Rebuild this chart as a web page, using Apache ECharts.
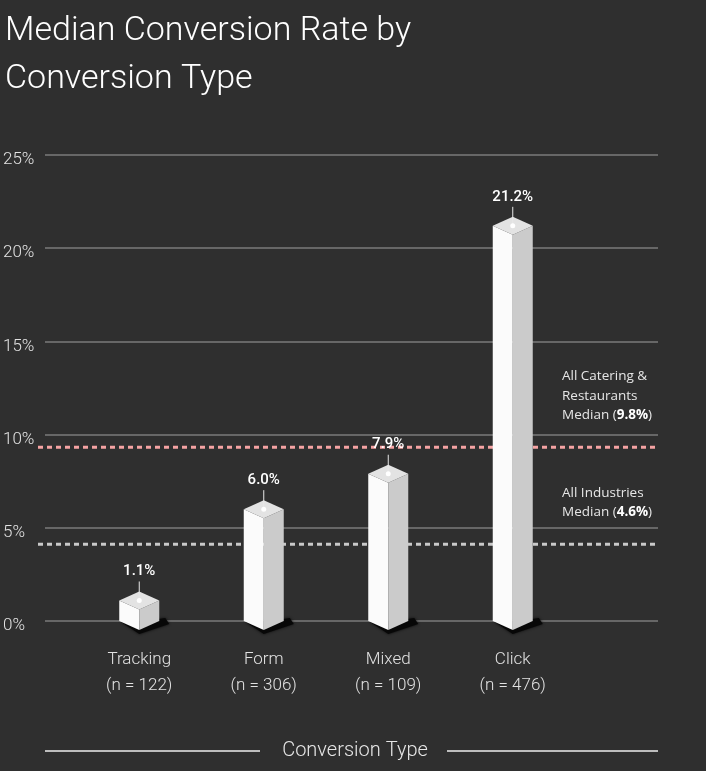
<!DOCTYPE html>
<html>
<head>
<meta charset="utf-8">
<script src="https://cdn.jsdelivr.net/npm/echarts@6/dist/echarts.min.js"></script>
<style>
  html, body { margin: 0; padding: 0; background: #2f2f2f; }
  #chart { width: 706px; height: 771px; }
</style>
</head>
<body>
<div id="chart"></div>
<script>
const categories = ['Tracking', 'Form', 'Mixed', 'Click'];
const sampleSizes = [122, 306, 109, 476];
const rates = [1.1, 6.0, 7.9, 21.2];
const medianValues = [9.8, 4.6];
const medianNames = ['All Catering &\nRestaurants', 'All Industries'];
const medianColors = ['#f5a3a3', '#c9c9c9'];

const FONT = 'Roboto, "Noto Sans", sans-serif';
const BAR_W = 20;   // half width of the iso bar
const DEPTH = 9;    // half height of the top diamond

const chart = echarts.init(document.getElementById('chart'));

function renderBar(params, api) {
  const c = api.coord([api.value(0), api.value(1)]);
  const b = api.coord([api.value(0), 0]);
  const cx = c[0], cy = c[1], by = b[1];
  const w = BAR_W, d = DEPTH;
  return {
    type: 'group',
    children: [
      { type: 'polygon', shape: { points: [[cx - w + 2, by + 1], [cx, by + d + 4], [cx + w + 10, by + 3], [cx + w + 6, by - 3], [cx + w, by - 2]] },
        style: { fill: '#070707', shadowBlur: 3, shadowColor: 'rgba(0,0,0,0.8)' } },
      { type: 'polygon', shape: { points: [[cx - w, cy], [cx, cy + d], [cx, by + d], [cx - w, by]] },
        style: { fill: '#fbfbfb' } },
      { type: 'polygon', shape: { points: [[cx, cy + d], [cx + w, cy], [cx + w, by], [cx, by + d]] },
        style: { fill: '#cbcbcb' } },
      { type: 'polygon', shape: { points: [[cx - w, cy], [cx, cy - d], [cx + w, cy], [cx, cy + d]] },
        style: { fill: '#e3e3e3' } },
      { type: 'line', shape: { x1: cx, y1: cy - 19, x2: cx, y2: cy },
        style: { stroke: '#e8e8e8', lineWidth: 1 } },
      { type: 'circle', shape: { cx: cx, cy: cy, r: 2.5 }, style: { fill: '#ffffff' } },
      { type: 'text', style: { text: api.value(1).toFixed(1) + '%', x: cx, y: cy - 29,
          align: 'center', verticalAlign: 'middle', fill: '#ffffff',
          fontSize: 15, fontWeight: 500, fontFamily: FONT } }
    ]
  };
}

function renderMedian(params, api) {
  const i = api.value(0);
  const v = api.value(1);
  const cs = params.coordSys;
  const y = api.coord([0, v])[1] + DEPTH;
  const font = '"Open Sans", "Noto Sans", sans-serif';
  return {
    type: 'group',
    children: [
      { type: 'line', shape: { x1: cs.x - 7, y1: y, x2: cs.x + cs.width + 1, y2: y },
        style: { stroke: medianColors[i], lineWidth: 3, lineDash: [5, 4] } },
      { type: 'text', style: {
          text: medianNames[i] + '\nMedian ({b|' + v.toFixed(1) + '%})',
          x: cs.x + cs.width - 96, y: y - 22,
          align: 'left', verticalAlign: 'bottom', fill: '#e6e6e6',
          fontSize: 13.5, lineHeight: 19.5, fontFamily: font,
          rich: { b: { fontWeight: 'bold', fill: '#ffffff', fontSize: 13.5, lineHeight: 19.5, fontFamily: font } } } }
    ]
  };
}

const option = {
  backgroundColor: '#2f2f2f',
  animation: false,
  title: {
    text: 'Median Conversion Rate by\nConversion Type',
    left: 0,
    top: 2,
    textStyle: { color: '#ffffff', fontSize: 34, fontWeight: 300, lineHeight: 48, fontFamily: FONT }
  },
  grid: [
    { left: 45, right: 48, top: 155, bottom: 150 },
    { left: 77, right: 131, top: 155, bottom: 150 }
  ],
  xAxis: [
    { type: 'value', gridIndex: 0, min: 0, max: 1, show: false },
    {
      type: 'category', gridIndex: 1, data: categories,
      axisLine: { show: false }, axisTick: { show: false },
      axisLabel: {
        margin: 26, color: '#e2e2e2', fontSize: 17, lineHeight: 26, fontWeight: 300, fontFamily: FONT,
        formatter: (val, idx) => val + '\n(n = ' + sampleSizes[idx] + ')'
      }
    }
  ],
  yAxis: [
    {
      type: 'value', gridIndex: 0, min: 0, max: 25, interval: 5,
      axisLine: { show: false }, axisTick: { show: false },
      splitLine: { lineStyle: { color: '#676767', width: 2 } },
      axisLabel: {
        formatter: '{value}%', align: 'left', margin: 42, color: '#e2e2e2',
        fontSize: 17, fontWeight: 300, fontFamily: FONT,
        verticalAlign: 'top', lineHeight: 10
      }
    },
    { type: 'value', gridIndex: 1, min: 0, max: 25, interval: 5, show: false, splitLine: { show: false } }
  ],
  graphic: [
    { type: 'line', shape: { x1: 45, y1: 751, x2: 260, y2: 751 }, style: { stroke: '#bdbdbd', lineWidth: 2 } },
    { type: 'line', shape: { x1: 447, y1: 751, x2: 658, y2: 751 }, style: { stroke: '#bdbdbd', lineWidth: 2 } },
    { type: 'text', x: 355, y: 751, style: { text: 'Conversion Type', align: 'center', verticalAlign: 'middle',
        fill: '#e6e6e6', fontSize: 20, fontWeight: 300, fontFamily: FONT } }
  ],
  series: [
    {
      type: 'custom', name: 'medians', xAxisIndex: 0, yAxisIndex: 0, z: 1,
      renderItem: renderMedian,
      data: medianValues.map((v, i) => [i, v]),
      encode: { x: -1, y: 1 }
    },
    {
      type: 'custom', name: 'rates', xAxisIndex: 1, yAxisIndex: 1, z: 5, clip: false,
      renderItem: renderBar,
      data: rates.map((v, i) => [i, v])
    }
  ]
};

chart.setOption(option);
</script>
</body>
</html>
